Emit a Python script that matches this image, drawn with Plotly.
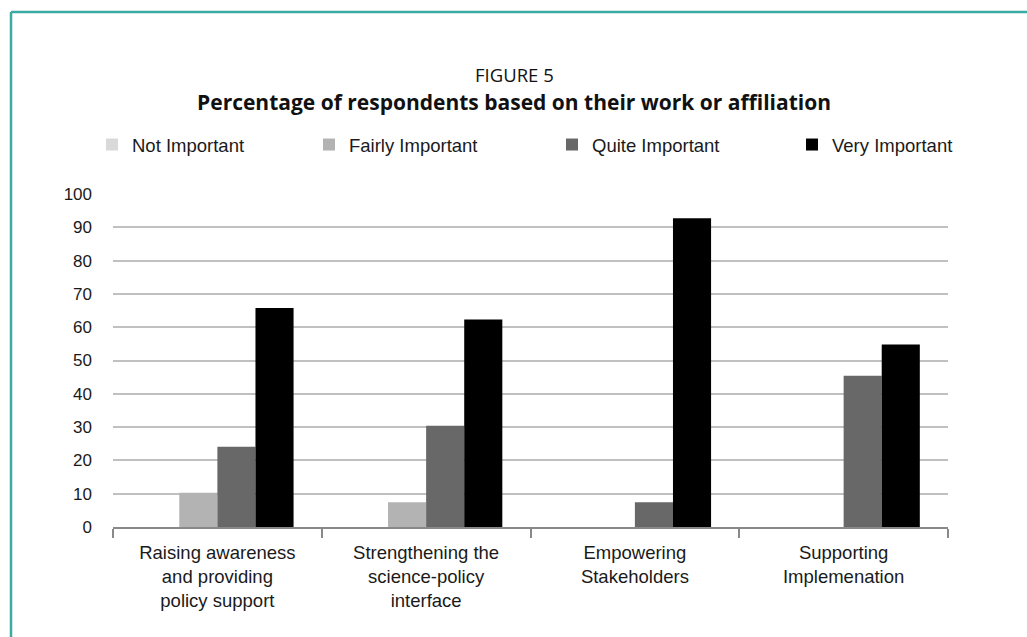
import plotly.graph_objects as go

# Survey results: share of respondents rating each area of work
categories = [
    "Raising awareness<br>and providing<br>policy support",
    "Strengthening the<br>science-policy<br>interface",
    "Empowering<br>Stakeholders",
    "Supporting<br>Implemenation",
]
series_names = ["Not Important", "Fairly Important", "Quite Important", "Very Important"]
not_important = [0, 0, 0, 0]
fairly_important = [10.3, 7.4, 0, 0]
quite_important = [24.1, 30.4, 7.4, 45.4]
very_important = [65.8, 62.3, 92.7, 54.8]
y_ticks = [0, 10, 20, 30, 40, 50, 60, 70, 80, 90, 100]

series_values = [not_important, fairly_important, quite_important, very_important]
colors = ["#d9d9d9", "#b3b3b3", "#686868", "#000000"]

W, H = 1027, 637
ML, MR, MT, MB = 113, 79, 194, 110
plot_w = W - ML - MR
plot_h = H - MT - MB

label_font = "Liberation Sans, Arial, sans-serif"
title_font = "Open Sans, Noto Sans, sans-serif"

fig = go.Figure()
legend_ids = ["legend", "legend2", "legend3", "legend4"]
for name, vals, col, lg in zip(series_names, series_values, colors, legend_ids):
    fig.add_trace(go.Bar(
        x=categories, y=vals, name=name,
        marker=dict(color=col, line=dict(width=0)),
        legend=lg,
    ))

# One legend box per series so each entry sits at its own spot in the row
legend_x_px = [92, 309, 552, 792]
legend_y_px = 145
legend_cfg = {}
for lg, xp in zip(legend_ids, legend_x_px):
    legend_cfg[lg] = dict(
        xref="container", yref="container",
        x=xp / W, y=1 - legend_y_px / H,
        xanchor="left", yanchor="middle",
        orientation="h", bgcolor="rgba(0,0,0,0)",
        font=dict(family=label_font, size=18.5, color="#1a1a1a"),
        itemclick=False, itemdoubleclick=False,
    )

fig.update_layout(
    width=W, height=H,
    margin=dict(l=ML, r=MR, t=MT, b=MB, autoexpand=False),
    paper_bgcolor="white", plot_bgcolor="white",
    barmode="group", bargap=0.27, bargroupgap=0,
    showlegend=True,
    **legend_cfg,
    title=dict(
        text="<b>Percentage of respondents based on their work or affiliation</b>",
        xref="container", yref="container",
        x=514 / W, y=1 - 103 / H, xanchor="center", yanchor="middle",
        font=dict(family=title_font, size=21, color="#111111"),
    ),
    xaxis=dict(
        type="category", tickson="boundaries",
        showline=True, linecolor="#898989", linewidth=2,
        ticks="outside", ticklen=9, tickwidth=2, tickcolor="#898989",
        showgrid=False, ticklabelstandoff=8,
        tickfont=dict(family=label_font, size=18.5, color="#1a1a1a"),
    ),
    yaxis=dict(
        range=[0, 100], tickvals=y_ticks,
        showgrid=True, gridcolor="#c0c0c0", gridwidth=1.5,
        zeroline=False, showline=False,
        ticks="", ticklabelstandoff=20,
        tickfont=dict(family=label_font, size=17, color="#1a1a1a"),
    ),
)

fig.add_annotation(
    text="FIGURE 5", xref="paper", yref="paper",
    x=(514 - ML) / plot_w, y=(H - MB - 75) / plot_h,
    xanchor="center", yanchor="middle", showarrow=False,
    font=dict(family=title_font, size=18.5, color="#111111"),
)

# Teal frame: top rule and left rule of the figure box
frame_col = "#3aaaa2"
x_left = (11 - ML) / plot_w
y_top = (H - MB - 12) / plot_h
y_bot = (H - MB - H - 5) / plot_h
x_right = (W + 5 - ML) / plot_w
fig.add_shape(type="line", xref="paper", yref="paper",
              x0=x_left, x1=x_right, y0=y_top, y1=y_top,
              line=dict(color=frame_col, width=2.5))
fig.add_shape(type="line", xref="paper", yref="paper",
              x0=x_left, x1=x_left, y0=y_top, y1=y_bot,
              line=dict(color=frame_col, width=2.5))

fig.write_html("out.html")
